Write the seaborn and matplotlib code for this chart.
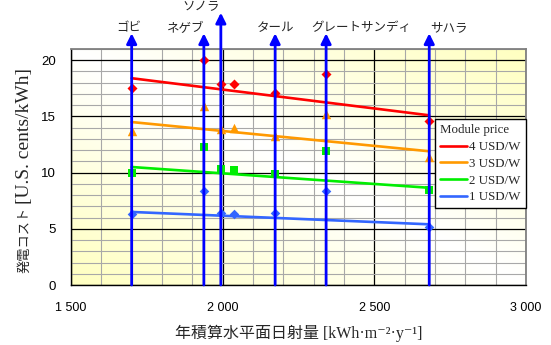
import numpy as np
import pandas as pd
import matplotlib
matplotlib.use("Agg")
import matplotlib.pyplot as plt
import seaborn as sns
from matplotlib.colors import LinearSegmentedColormap
from matplotlib.ticker import MultipleLocator, FixedLocator, FixedFormatter

# ---- data -------------------------------------------------------------
site_names = ["ゴビ", "ネゲブ", "ソノラ", "タール", "グレートサンディ", "サハラ"]
site_irradiance = [1700, 1938, 1994, 2173, 2341, 2681]

point_irradiance = [1700, 1938, 1994, 2037, 2173, 2341, 2681]
price_labels = ["4 USD/W", "3 USD/W", "2 USD/W", "1 USD/W"]
cost_4usd = [17.5, 20.0, 17.9, 17.9, 17.1, 18.8, 14.6]
cost_3usd = [13.7, 15.9, 13.9, 14.0, 13.3, 15.2, 11.4]
cost_2usd = [10.0, 12.3, 10.3, 10.2, 9.9, 11.9, 8.45]
cost_1usd = [6.3, 8.4, 6.45, 6.35, 6.4, 8.4, 5.15]

trend_irradiance = [1700, 2681]
trend_4usd = [18.4, 15.1]
trend_3usd = [14.5, 11.9]
trend_2usd = [10.5, 8.65]
trend_1usd = [6.5, 5.4]

x_tick_values = [1500, 2000, 2500, 3000]
x_tick_labels = ["1 500", "2 000", "2 500", "3 000"]
y_tick_values = [0, 5, 10, 15, 20]

# ---- tables -----------------------------------------------------------
costs = [cost_4usd, cost_3usd, cost_2usd, cost_1usd]
trends = [trend_4usd, trend_3usd, trend_2usd, trend_1usd]
points = pd.DataFrame({
    "irradiance": np.tile(point_irradiance, len(price_labels)),
    "cost": np.concatenate(costs),
    "price": np.repeat(price_labels, len(point_irradiance)),
})
trend = pd.DataFrame({
    "irradiance": np.tile(trend_irradiance, len(price_labels)),
    "cost": np.concatenate(trends),
    "price": np.repeat(price_labels, len(trend_irradiance)),
})

# ---- style ------------------------------------------------------------
sns.set_theme(style="white")
plt.rcParams["font.family"] = ["Liberation Sans", "Noto Sans CJK JP"]
serif_jp = ["Liberation Serif", "DejaVu Serif", "Noto Sans CJK JP"]

palette = {"4 USD/W": "#FF0000", "3 USD/W": "#FF9900",
           "2 USD/W": "#00EE00", "1 USD/W": "#3366FF"}
markers = {"4 USD/W": "D", "3 USD/W": "^", "2 USD/W": "s", "1 USD/W": "D"}
marker_area = {"4 USD/W": 26, "3 USD/W": 46, "2 USD/W": 36, "1 USD/W": 24}

fig = plt.figure(figsize=(5.51, 3.45), dpi=100)
ax = fig.add_axes([71 / 551, 1 - 285 / 345, 455 / 551, 236 / 345])

# soft diagonal yellow wash behind the grid
u, v = np.meshgrid(np.linspace(0, 1, 300), np.linspace(0, 1, 300))
wash = np.abs(u + v - 1)
ax.imshow(wash, cmap=LinearSegmentedColormap.from_list("wash", ["#FFFFFF", "#FFFFC0"]),
          extent=[1500, 3000, 0, 21], origin="lower", aspect="auto",
          vmin=0, vmax=1, zorder=0, interpolation="bilinear")

# regression-style trend lines
sns.lineplot(data=trend, x="irradiance", y="cost", hue="price",
             hue_order=price_labels, palette=palette, linewidth=1.9,
             zorder=2, ax=ax)
handles, labels = ax.get_legend_handles_labels()
ax.get_legend().remove()

# cost points per module price
for price in price_labels:
    sns.scatterplot(data=points[points["price"] == price], x="irradiance", y="cost",
                    color=palette[price], marker=markers[price], s=marker_area[price],
                    linewidth=0, zorder=3, legend=False, ax=ax)

# desert markers: arrows rising from the axis with names above
arrow_tip_px = [33.3, 33.3, 12.7, 33.3, 33.3, 33.3]
label_y_px = [28, 28, 6.5, 28, 28, 28]
label_dx_pt = [-2, -13, -14, 0, 25, 14]
for name, x, tip, ly, dx in zip(site_names, site_irradiance, arrow_tip_px,
                                label_y_px, label_dx_pt):
    ax.annotate("", xy=(x, 1 - tip / 345), xycoords=("data", "figure fraction"),
                xytext=(x, 0), textcoords="data", annotation_clip=False,
                arrowprops=dict(arrowstyle="-|>,head_length=0.5,head_width=0.25",
                                mutation_scale=12, color="#0000FF", lw=2.0,
                                shrinkA=0, shrinkB=0), zorder=4)
    ax.annotate(name, xy=(x, 1 - ly / 345), xycoords=("data", "figure fraction"),
                xytext=(dx, 0), textcoords="offset points", ha="center", va="center",
                fontsize=9, family=["Noto Sans CJK JP"], annotation_clip=False)

# axes, grid and ticks
ax.set_xlim(1500, 3000)
ax.set_ylim(0, 21)
ax.xaxis.set_major_locator(FixedLocator(x_tick_values))
ax.xaxis.set_major_formatter(FixedFormatter(x_tick_labels))
ax.xaxis.set_minor_locator(MultipleLocator(100))
ax.yaxis.set_major_locator(FixedLocator(y_tick_values))
ax.yaxis.set_minor_locator(MultipleLocator(1))
ax.set_axisbelow(True)
ax.grid(which="minor", color="#A8A8A8", linewidth=0.8)
ax.grid(which="major", color="#000000", linewidth=0.9)
ax.tick_params(which="both", length=0)
ax.tick_params(axis="y", pad=11, labelsize=9.5, colors="black")
ax.tick_params(axis="x", pad=12, labelsize=9, colors="black")
ax.set_xlabel("")
ax.set_ylabel("")
for side in ("left", "bottom"):
    ax.spines[side].set_color("black")
    ax.spines[side].set_linewidth(1.0)
for side in ("top", "right"):
    ax.spines[side].set_color("#808080")
    ax.spines[side].set_linewidth(1.3)

# axis titles
fig.text(299 / 551, 1 - 333 / 345, "年積算水平面日射量 [kWh·m⁻²·y⁻¹]",
         ha="center", va="center", fontsize=11.5, family=serif_jp)
fig.text(25 / 551, 1 - 273 / 345, "発電コスト", rotation=90, ha="center",
         va="bottom", fontsize=9.5, family=["Noto Sans CJK JP"])
fig.text(25 / 551, 1 - 204 / 345, "[U.S. cents/kWh]", rotation=90, ha="center",
         va="bottom", fontsize=14, family=["Liberation Serif"])

leg = ax.legend(handles, labels, title="Module price", loc="upper right",
                bbox_to_anchor=(1.0, (285 - 119.3) / 236), borderaxespad=0,
                frameon=True, fancybox=False, framealpha=1, edgecolor="black",
                prop={"family": "Liberation Serif", "size": 9.3},
                title_fontproperties={"family": "Liberation Serif", "size": 9.3},
                handlelength=2.1, handletextpad=0.2, labelspacing=0.36,
                borderpad=0.4)
leg._legend_box.align = "left"
leg.get_frame().set_linewidth(1.0)
leg.set_zorder(5)

fig.savefig("out.png", dpi=100)
